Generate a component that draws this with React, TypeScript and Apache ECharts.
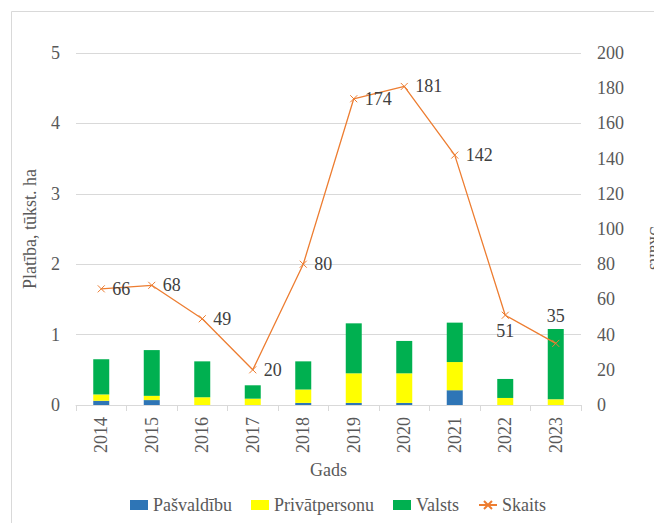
import React, { useEffect, useRef } from "react";
import * as echarts from "echarts";

const years = ["2014", "2015", "2016", "2017", "2018", "2019", "2020", "2021", "2022", "2023"];
const pasvaldibu = [0.06, 0.07, 0, 0, 0.03, 0.03, 0.03, 0.21, 0, 0];
const privatpersonu = [0.09, 0.06, 0.11, 0.09, 0.19, 0.42, 0.42, 0.4, 0.1, 0.08];
const valsts = [0.5, 0.65, 0.51, 0.19, 0.4, 0.71, 0.46, 0.56, 0.27, 1.0];
const skaits = [66, 68, 49, 20, 80, 174, 181, 142, 51, 35];
const leftTicks = { min: 0, max: 5, interval: 1 };
const rightTicks = { min: 0, max: 200, interval: 20 };

const FONT = "'Liberation Serif', 'Times New Roman', serif";
const AXIS_COLOR = "#595959";
const LABEL_COLOR = "#404040";

export default function App() {
  const ref = useRef<HTMLDivElement>(null);
  useEffect(() => {
    if (!ref.current) return;
    const chart = echarts.init(ref.current, undefined, { renderer: "svg" });
    const labelPos: Record<number, any> = {
      8: { position: "bottom", distance: 3 },
      9: { position: "top", distance: 14 },
    };
    const lineData = skaits.map((v, i) =>
      labelPos[i] ? { value: v, label: labelPos[i] } : v
    );
    const txt = { fontFamily: FONT, fontSize: 18, color: AXIS_COLOR };
    const barCommon = {
      type: "bar",
      stack: "area",
      barWidth: 16,
      yAxisIndex: 0,
    };
    chart.setOption({
      animation: false,
      graphic: [
        {
          type: "rect",
          shape: { x: 11.5, y: 11.5, width: 700, height: 600 },
          style: { fill: "none", stroke: "#d9d9d9", lineWidth: 1 },
          silent: true,
        },
        {
          type: "text",
          x: 656,
          y: 248,
          rotation: -Math.PI / 2,
          style: {
            text: "Skaits",
            font: "18px 'Liberation Serif', 'Times New Roman', serif",
            fill: AXIS_COLOR,
            align: "center",
            verticalAlign: "middle",
          },
          silent: true,
        },
      ],
      grid: {
        left: 76,
        right: 73,
        top: 53,
        bottom: 118,
        containLabel: false,
        outerBoundsMode: "none",
      },
      legend: {
        bottom: 4,
        left: 125,
        itemGap: 19,
        itemWidth: 18,
        itemHeight: 10,
        textStyle: { ...txt },
        data: [
          { name: "Pašvaldību", icon: "rect" },
          { name: "Privātpersonu", icon: "rect" },
          { name: "Valsts", icon: "rect" },
          { name: "Skaits" },
        ],
      },
      xAxis: {
        type: "category",
        data: years,
        name: "Gads",
        nameLocation: "middle",
        nameGap: 52,
        nameTextStyle: { ...txt },
        axisLine: { show: true, lineStyle: { color: "#d9d9d9" } },
        axisTick: { show: true, length: 6, lineStyle: { color: "#d9d9d9" } },
        axisLabel: { rotate: 90, margin: 12, ...txt },
      },
      yAxis: [
        {
          type: "value",
          ...leftTicks,
          name: "Platība, tūkst. ha",
          nameLocation: "middle",
          nameRotate: 90,
          nameGap: 37,
          nameTextStyle: { ...txt },
          axisLine: { show: false },
          axisTick: { show: false },
          axisLabel: { margin: 16, ...txt },
          splitLine: { show: true, lineStyle: { color: "#d9d9d9" } },
        },
        {
          type: "value",
          ...rightTicks,
          position: "right",
          axisLine: { show: false },
          axisTick: { show: false },
          axisLabel: { margin: 16, ...txt },
          splitLine: { show: false },
        },
      ],
      series: [
        { ...barCommon, name: "Pašvaldību", data: pasvaldibu, itemStyle: { color: "#2E75B6" } },
        { ...barCommon, name: "Privātpersonu", data: privatpersonu, itemStyle: { color: "#FFFF00" } },
        { ...barCommon, name: "Valsts", data: valsts, itemStyle: { color: "#00B050" } },
        {
          type: "line",
          name: "Skaits",
          yAxisIndex: 1,
          data: lineData,
          symbol: "path://M0,0L10,10M0,10L10,0",
          symbolSize: 7,
          lineStyle: { color: "#ED7D31", width: 1.3 },
          itemStyle: { color: "#ED7D31", borderColor: "#ED7D31", borderWidth: 1 },
          label: {
            show: true,
            position: "right",
            distance: 7,
            fontFamily: FONT,
            fontSize: 18,
            color: LABEL_COLOR,
          },
          z: 5,
        },
      ],
    });
    return () => chart.dispose();
  }, []);
  return (
    <div
      ref={ref}
      style={{ position: "fixed", left: 0, top: 0, width: 654, height: 523, background: "#fff" }}
    />
  );
}
